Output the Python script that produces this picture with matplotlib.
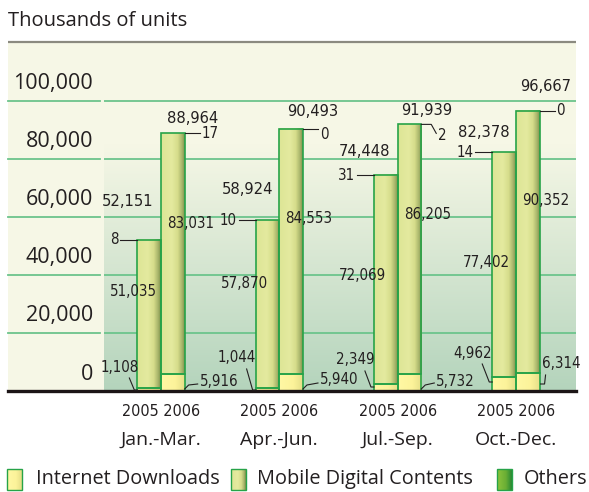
import numpy as np
import matplotlib
matplotlib.use('Agg')
import matplotlib.pyplot as plt
from matplotlib.colors import LinearSegmentedColormap
from matplotlib.patches import Rectangle

# data (thousands of units)
quarters = ['Jan.-Mar.', 'Apr.-Jun.', 'Jul.-Sep.', 'Oct.-Dec.']
years = ['2005', '2006']
internet_2005 = [1108, 1044, 2349, 4962]
internet_2006 = [5916, 5940, 5732, 6314]
mobile_2005 = [51035, 57870, 72069, 77402]
mobile_2006 = [83031, 84553, 86205, 90352]
others_2005 = [8, 10, 31, 14]
others_2006 = [17, 0, 2, 0]
total_2005 = [52151, 58924, 74448, 82378]
total_2006 = [88964, 90493, 91939, 96667]
yticks = [0, 20000, 40000, 60000, 80000, 100000]
legend_names = ['Internet Downloads', 'Mobile Digital Contents', 'Others']

main_font = ['Open Sans', 'DejaVu Sans']
narrow_font = ['DejaVu Sans']
txt = '#231f20'
edge = '#27a348'
gridc = '#6cc48c'
mobile_cols = [(0, '#dde596'), (0.45, '#e4ea9f'), (0.7, '#d6dd8b'), (0.88, '#aab66c'), (1, '#7f934c')]
internet_cols = [(0, '#fff8a4'), (0.6, '#fcf39a'), (1, '#e6df88')]
others_cols = [(0, '#8cc43c'), (0.6, '#6aae34'), (1, '#2a8a34')]

W, H = 589, 492
fig = plt.figure(figsize=(W / 100, H / 100), dpi=100)
plt.rcParams['font.family'] = main_font

# background layer in pixel coords
bg = fig.add_axes([0, 0, 1, 1], zorder=-1)
bg.set_xlim(0, W)
bg.set_ylim(H, 0)
bg.axis('off')
bg.add_patch(Rectangle((8, 42), 568, 349, color='#f6f7e6', lw=0))
bg.plot([8, 576], [42, 42], color='#8b8a80', lw=1.6, solid_capstyle='butt')
bg.text(8, 21, 'Thousands of units', fontsize=14.5, color=txt, va='center', ha='left')

ax = fig.add_axes([104 / W, (H - 391) / H, 472 / W, 349 / H])
ax.set_facecolor('none')
x0, x1 = (104 - 161) / 118.3, (576 - 161) / 118.3
ymax = 349 / 58 * 20000

grad = np.linspace(0, 1, 256).reshape(-1, 1)
bgcmap = LinearSegmentedColormap.from_list('bg', ['#b4d4bc', '#f6f7e6'])
ax.imshow(grad, extent=(x0, x1, 0, 85000), origin='lower', cmap=bgcmap,
          aspect='auto', zorder=0)

for v in yticks[1:]:
    ax.axhline(v, color=gridc, lw=1.3, zorder=1)
    ax.axhline(v, xmin=-96 / 472, xmax=-4 / 472, color=gridc, lw=1.3,
               clip_on=False, zorder=1)

g = np.arange(len(quarters))
w = 0.2


def shade(rects, cols):
    cm = LinearSegmentedColormap.from_list('c', cols)
    for r in rects:
        x, y = r.get_x(), r.get_y()
        ax.imshow(np.linspace(0, 1, 64).reshape(1, -1),
                  extent=(x, x + r.get_width(), y, y + r.get_height()),
                  cmap=cm, aspect='auto', zorder=2.9)


for xs, inet, mob, oth in [(g - 0.1, internet_2005, mobile_2005, others_2005),
                           (g + 0.1, internet_2006, mobile_2006, others_2006)]:
    inet = np.array(inet)
    mob = np.array(mob)
    b1 = ax.bar(xs, inet, w, facecolor='none', edgecolor=edge, lw=1.2, zorder=3)
    b2 = ax.bar(xs, mob, w, bottom=inet, facecolor='none', edgecolor=edge,
                lw=1.2, zorder=3)
    ax.bar(xs, oth, w, bottom=inet + mob, color='#2a8a34', lw=0, zorder=3)
    shade(b1, internet_cols)
    shade(b2, mobile_cols)

ax.axhline(0, xmin=-96 / 472, xmax=1, color='#1c1516', lw=2.4,
           clip_on=False, zorder=6)

ax.set_xlim(x0, x1)
ax.set_ylim(0, ymax)
ax.axis('off')


def at(x, y, dx=0, dy=0):
    p = ax.transData.transform((x, y)) + np.array([dx, dy])
    return ax.transData.inverted().transform(p)


def leader(pts):
    xy = np.array(pts)
    ax.plot(xy[:, 0], xy[:, 1], color=txt, lw=0.8, zorder=7, clip_on=False)


for v in yticks:
    ax.text(*at(x0, v, -11, 17), f'{v:,}', fontsize=15.5, color=txt,
            ha='right', va='center')

# label offsets (pixels)
tot05_off = [(-10, 38), (-8, 31), (-9, 24), (-8, 20)]
mob05_off = [(-4, -52), (-11, -63), (-11, -100), (-6, -110)]
int05_off = [(-18, 24), (-19, 33), (-19, 31), (-20, 38)]
int05_end = [1, 1, 4, 9]
tot06_off = [(8, 15), (10, 17), (5, 14), (6, 24)]
oth06_text = [0, 6, 11, 0]
oth06_line = [0, 0, 9, 0]
int06_off = [(15, 9), (17, 11), (15, 9), (2, 28)]
int06_lead = [[(0, 2), (4, 6), (13, 7)], [(0, 2), (4, 6), (15, 8)],
              [(0, 2), (4, 6), (13, 8)], [(1, 7), (5, 7), (6, 16)]]

big = dict(fontsize=11.8, color=txt, family=narrow_font, fontstretch='condensed', zorder=8)
small = dict(fontsize=10.8, color=txt, family=narrow_font, fontstretch='condensed', zorder=8)

for i in range(len(quarters)):
    l05 = g[i] - 0.2
    r06 = g[i] + 0.2
    t05 = total_2005[i]
    t06 = total_2006[i]

    ax.text(*at(l05, t05, *tot05_off[i]), f'{t05:,}', ha='center', va='center', **big)
    leader([at(l05, t05, -17, 0), at(l05, t05)])
    ax.text(*at(l05, t05, -19, 0), f'{others_2005[i]:,}', ha='right', va='center', **small)
    ax.text(*at(l05, t05, *mob05_off[i]), f'{mobile_2005[i]:,}', ha='center', va='center', **small)
    tx, ty = int05_off[i]
    ax.text(*at(l05, 0, tx, ty), f'{internet_2005[i]:,}', ha='center', va='center', **small)
    leader([at(l05, 0, tx + 10, ty - 11), at(l05, 0, -3, int05_end[i]),
            at(l05, 0, 0, int05_end[i])])

    ax.text(*at(r06, t06, *tot06_off[i]), f'{t06:,}', ha='center', va='center', **big)
    leader([at(r06, t06), at(r06, t06, 10, 0), at(r06, t06, 15, -oth06_line[i])])
    ax.text(*at(r06, t06, 17, -oth06_text[i]), f'{others_2006[i]:,}', ha='left', va='center', **small)
    ax.text(*at(r06, t06, 6, -90), f'{mobile_2006[i]:,}', ha='center', va='center', **small)
    tx, ty = int06_off[i]
    ax.text(*at(r06, 0, tx, ty), f'{internet_2006[i]:,}', ha='left', va='center', **small)
    leader([at(r06, 0, dx, dy) for dx, dy in int06_lead[i]])

    ax.text(*at(g[i], 0, 0, -21), ' '.join(years), ha='center', va='center',
            fontsize=11.5, color=txt, family=narrow_font, fontstretch='condensed')
    ax.text(*at(g[i], 0, 0, -49), quarters[i], ha='center', va='center',
            fontsize=14, color=txt)

# legend
sw_x = [7, 231, 497]
tx_x = [36, 257, 524]
for name, cols, sx, tx in zip(legend_names, [internet_cols, mobile_cols, others_cols], sw_x, tx_x):
    cm = LinearSegmentedColormap.from_list('l', cols)
    bg.imshow(np.linspace(0, 1, 32).reshape(1, -1), extent=(sx, sx + 15, 490, 469),
              cmap=cm, aspect='auto')
    bg.add_patch(Rectangle((sx, 469), 15, 21, facecolor='none', edgecolor=edge, lw=1))
    bg.text(tx, 479, name, fontsize=14.3, color=txt, va='center', ha='left')
bg.set_xlim(0, W)
bg.set_ylim(H, 0)

fig.savefig('out.png', dpi=100)
